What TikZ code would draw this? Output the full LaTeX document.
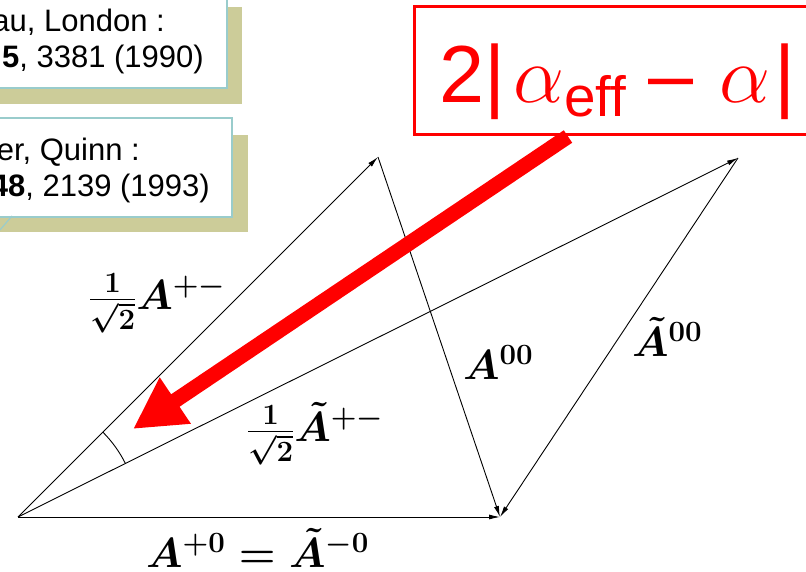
\documentclass[tikz,border=0pt]{standalone}
\usepackage{fix-cm}
\usepackage{amsmath, amssymb}
\usepackage[no-math]{fontspec}
\setmainfont{Liberation Sans}
\usepackage{xcolor}
\usepackage{tikz}
\usetikzlibrary{arrows.meta,positioning,calc}
\tikzset{
  vecarr/.style  ={-{Latex[length=11pt,width=5pt]}, line width=0.9pt},
  angarc/.style  ={line width=0.9pt},
  mlabel/.style  ={anchor=base west, inner sep=0pt,
                   font=\fontsize{42}{50}\selectfont\boldmath},
  refbox/.style  ={fill=white, draw=boxteal, line width=1.2pt},
  reftext/.style ={anchor=base east, inner sep=0pt,
                   font=\fontsize{31}{36}\selectfont},
  gapbox/.style  ={draw=red, line width=3pt, text=red, anchor=base west,
                   inner xsep=25pt, inner ysep=0pt,
                   text height=96pt, text depth=32pt,
                   font=\fontsize{81}{81}\selectfont},
  redarr/.style  ={-{Triangle[length=51pt,width=52pt]}, line width=15pt, red},
}
\definecolor{shadowkhaki}{RGB}{204,204,153}
\definecolor{boxteal}    {RGB}{153,204,204}

\begin{document}
\begin{tikzpicture}[x=1pt,y=1pt]
  \useasboundingbox (0,0) rectangle (806,572);
  \clip (0,0) rectangle (806,572);
  \fill[shadowkhaki] (-10,468) rectangle (242,565);
  \draw[refbox] (-10,484) rectangle (227,585);
  \node[reftext] (refa1) at (165,540) {au, London :};
  \node[reftext] (refa2) at (204,504) {\textbf{5}, 3381 (1990)};
  \fill[shadowkhaki] (-10,340) rectangle (248,437);
  \draw[refbox] (-10,355) rectangle (232,454);
  \draw[boxteal, line width=1.2pt] (12,356) -- (0,342);
  \node[reftext] (refb1) at (140,411) {er, Quinn :};
  \node[reftext] (refb2) at (210,375) {\textbf{48}, 2139 (1993)};
  \coordinate (o) at (18,55);
  \coordinate (pz) at (500,55);
  \coordinate (pm) at (378,415);
  \coordinate (tpm) at (738,414);
  \draw[vecarr] (o) -- (pz);
  \draw[vecarr] (o) -- (pm);
  \draw[vecarr] (pm) -- (pz);
  \draw[vecarr] (o) -- (tpm);
  \draw[vecarr] (tpm) -- (pz);
  \draw[angarc] ($(o)+(45:120pt)$) arc[start angle=45, end angle=26.6, radius=120pt];
  \node[mlabel] (lpm) at (89,262) {$\frac{1}{\sqrt{2}}A^{+-}$};
  \node[mlabel] (ltpm) at (247,130) {$\frac{1}{\sqrt{2}}\tilde{A}^{+-}$};
  \node[mlabel] (lzz) at (463,192) {$A^{00}$};
  \node[mlabel] (ltzz) at (632,215) {$\tilde{A}^{00}$};
  \node[mlabel] (lpz) at (146,4) {$A^{+0}=\tilde{A}^{-0}$};
  \node[gapbox] (gap) at (413,469)
    {2|\kern8pt$\alpha_{\text{eff}}$\kern22pt–\kern26pt$\alpha$\kern4pt|\kern20pt};
  \coordinate (gapfoot) at ([xshift=155pt]gap.south west);
  \coordinate (angtip) at (133,143);
  \draw[redarr] (gapfoot) -- (angtip);
\end{tikzpicture}
\end{document}
